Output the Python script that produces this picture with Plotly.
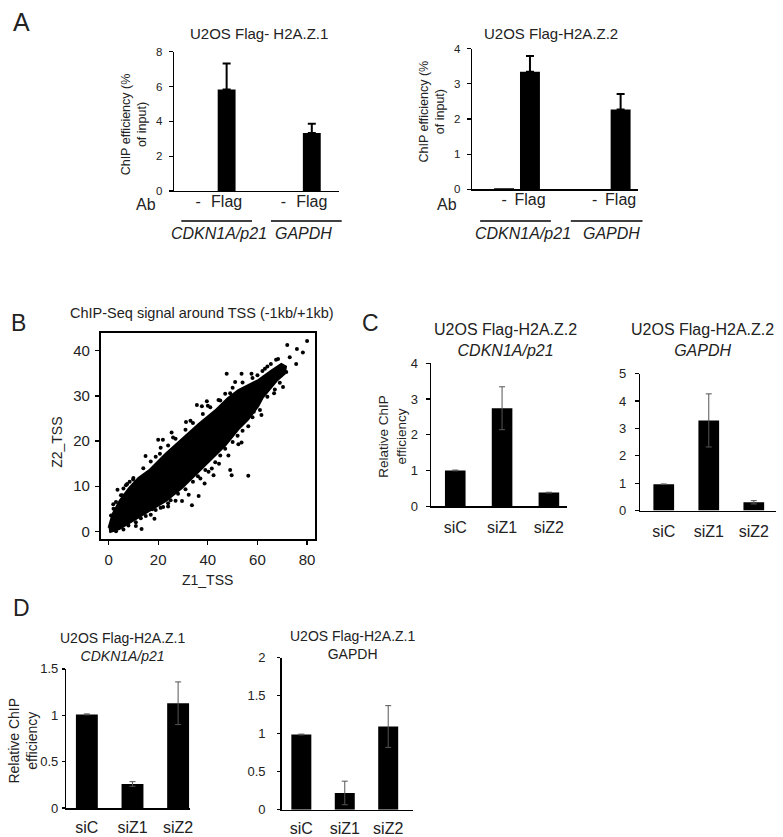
import plotly.graph_objects as go

W, H = 783, 837
FONT = "Liberation Sans, Arial, sans-serif"
TXT = "#222"

# ---------------- data ----------------
# Panel A
a_groups = ["CDKN1A/p21", "GAPDH"]
a_ab = ["-", "Flag"]
a1_title = "U2OS Flag- H2A.Z.1"
a1_values = [0.0, 5.84, 0.0, 3.33]
a1_err_up = [None, 1.49, None, 0.53]
a2_title = "U2OS Flag-H2A.Z.2"
a2_values = [0.03, 3.34, 0.0, 2.27]
a2_err_up = [None, 0.45, None, 0.44]
a_ytitle = "ChIP efficiency (%<br>of input)"

# Panel B  (dense core outline + individually visible points)
b_title = "ChIP-Seq signal around TSS (-1kb/+1kb)"
cloud_x = [0.0, 1.6, 4.5, 8.3, 12.0, 16.3, 23.0, 29.6, 36.3, 43.0, 48.0, 52.3, 56.0, 60.3, 65.6, 69.6, 71.5,
           71.0, 68.0, 65.6, 62.0, 60.3, 56.3, 52.3, 47.0, 41.6, 36.3, 29.6, 23.0, 16.3, 9.6, 4.3, 0.3]
cloud_y = [0.8, 3.8, 6.8, 9.6, 11.8, 13.5, 17.2, 20.4, 23.8, 26.8, 29.5, 31.3, 32.4, 33.5, 35.6, 37.1, 36.5,
           34.9, 33.5, 32.0, 29.5, 27.7, 24.8, 22.6, 19.0, 16.1, 13.2, 9.6, 6.7, 4.5, 2.3, 0.5, -0.2]
out_x = [80.0, 72.0, 75.9, 78.3, 75.6, 73.0, 68.3, 65.4, 63.0, 71.6, 70.3, 66.7, 61.6, 56.3, 53.6, 52.3,
         48.3, 49.0, 56.3, 42.3, 47.6, 53.6, 57.6, 39.6, 37.6, 51.0, 49.0, 44.3, 63.0, 66.3, 40.3, 49.6,
         13.3, 20.0, 21.9, 25.4, 31.2, 35.6, 14.9, 20.7, 9.9, 13.0, 3.6, 1.9, 33.6, 29.6, 27.0, 21.0,
         17.6, 36.3, 38.7, 32.3, 37.0, 41.6, 31.6, 26.3, 5.5, 7.0, 11.0, 18.5, 24.0, 44.5, 58.5, 67.5,
         # fringe along the upper edge of the core
         2.0, 3.0, 5.0, 6.0, 7.5, 10.0, 14.0, 17.0, 19.0, 24.0, 27.0, 31.0, 34.0, 38.0, 41.0, 45.0,
         47.0, 54.0, 58.0, 62.0, 64.0, 1.0, 8.5, 21.0, 26.0, 33.0, 40.0, 50.0, 60.0,
         # fringe along the lower edge of the core
         3.0, 6.0, 8.0, 11.0, 13.0, 15.0, 19.0, 22.0, 25.0, 28.0, 31.0, 34.0, 39.0, 43.0, 45.0, 50.0,
         54.0, 58.0, 61.0, 64.0, 67.0, 69.0, 17.0, 24.0, 36.0, 47.0, 52.0]
out_y = [42.2, 41.3, 40.4, 39.6, 37.1, 38.6, 38.2, 37.1, 36.0, 35.3, 32.0, 30.6, 25.8, 23.3, 19.7, 19.3,
         16.8, 13.6, 12.3, 12.4, 34.9, 34.9, 34.9, 28.8, 27.7, 33.1, 30.6, 29.1, 34.2, 33.5, 13.2, 12.4,
         0.5, 20.3, 20.3, 21.9, 24.2, 28.0, 16.7, 17.2, 11.5, 11.4, 9.2, 6.0, 5.8, 6.7, 6.8, 5.2,
         4.9, 7.8, 10.6, 8.1, 11.7, 13.9, 11.7, 10.0, 8.0, 10.2, 1.2, 2.8, 5.5, 15.0, 26.5, 38.0,
         5.0, 6.5, 8.0, 9.5, 10.5, 11.8, 14.0, 15.5, 16.5, 19.0, 20.5, 22.5, 24.0, 26.0, 27.5, 29.0,
         30.5, 33.0, 34.0, 35.5, 36.5, 3.5, 11.0, 18.5, 20.8, 24.5, 27.8, 31.8, 34.6,
         0.0, 0.4, 1.3, 2.0, 2.9, 3.4, 4.7, 5.4, 6.9, 8.3, 9.3, 11.0, 13.6, 15.3, 16.8, 19.8,
         22.3, 25.3, 26.9, 29.8, 31.4, 32.9, 3.7, 6.2, 12.2, 18.3, 21.2]
b_xtitle = "Z1_TSS"
b_ytitle = "Z2_TSS"

# Panels C and D
si_labels = ["siC", "siZ1", "siZ2"]
c1_title = "U2OS Flag-H2A.Z.2<br><i>CDKN1A/p21</i>"
c1_values = [1.0, 2.74, 0.38]
c1_err = [0.01, 0.60, 0.01]
c2_title = "U2OS Flag-H2A.Z.2<br><i>GAPDH</i>"
c2_values = [0.96, 3.29, 0.30]
c2_err = [0.01, 0.97, 0.06]
d1_title = "U2OS Flag-H2A.Z.1<br><i>CDKN1A/p21</i>"
d1_values = [1.01, 0.26, 1.13]
d1_err = [0.005, 0.025, 0.23]
d2_title = "U2OS Flag-H2A.Z.1<br>GAPDH"
d2_values = [0.99, 0.22, 1.095]
d2_err = [0.005, 0.155, 0.275]
rel_ytitle = "Relative ChIP<br>efficiency"

# ---------------- helpers ----------------
def fx(px):
    return px / W

def fy(py):
    return 1 - py / H

fig = go.Figure()
layout = dict(width=W, height=H, margin=dict(l=0, r=0, t=0, b=0), autosize=False,
              paper_bgcolor="white", plot_bgcolor="white", showlegend=False,
              font=dict(family=FONT, color=TXT), annotations=[], shapes=[])


def set_axes(n, left, right, top, bottom, xrange, yrange, ydtick, ytick_size, ystandoff,
             xtickvals=None, xticktext=None, xtick_size=16, xstandoff=2, ticklen=4, xticks=""):
    key = "" if n == 1 else str(n)
    layout["xaxis" + key] = dict(domain=[fx(left), fx(right)], range=xrange, anchor="y" + key,
                                 showline=True, linecolor="black", linewidth=1.5, ticks=xticks,
                                 showgrid=False, zeroline=False, tickvals=xtickvals, ticktext=xticktext,
                                 tickfont=dict(size=xtick_size, color=TXT, family=FONT),
                                 ticklabelstandoff=xstandoff, fixedrange=True)
    layout["yaxis" + key] = dict(domain=[fy(bottom), fy(top)], range=yrange, anchor="x" + key,
                                 showline=True, linecolor="black", linewidth=1.5, ticks="outside",
                                 ticklen=ticklen, tickwidth=1.2, tickcolor="black", dtick=ydtick,
                                 tick0=0, showgrid=False, zeroline=False,
                                 tickfont=dict(size=ytick_size, color=TXT, family=FONT),
                                 ticklabelstandoff=ystandoff, fixedrange=True)


def bar_panel(n, values, err_plus, err_minus, labels, first_px, unit_px, left, right, top, bottom,
              ymax, ydtick, width, ytick_size, ystandoff, xstandoff, positions, err_color, err_thick,
              err_width, xtick_size=16, ticklen=4):
    key = "" if n == 1 else str(n)
    fig.add_trace(go.Bar(x=positions, y=values, width=width, marker=dict(color="black", line=dict(width=0)),
                         xaxis="x" + key, yaxis="y" + key))
    # error bars only where an error value exists
    idx = [i for i, e in enumerate(err_plus) if e is not None]
    fig.add_trace(go.Scatter(x=[positions[i] for i in idx], y=[values[i] for i in idx], mode="markers",
                             marker=dict(size=1, color="rgba(0,0,0,0)"), xaxis="x" + key, yaxis="y" + key,
                             error_y=dict(type="data", symmetric=False,
                                          array=[err_plus[i] for i in idx],
                                          arrayminus=[(err_minus[i] or 0) for i in idx],
                                          color=err_color, thickness=err_thick, width=err_width)))
    xr = [(left - first_px) / unit_px, (right - first_px) / unit_px]
    set_axes(n, left, right, top, bottom, xr, [0, ymax], ydtick, ytick_size, ystandoff,
             xtickvals=positions, xticktext=labels, xtick_size=xtick_size, xstandoff=xstandoff,
             ticklen=ticklen)


def ann(text, px, py, size, angle=0, xanchor="center", yanchor="middle", italic=False):
    if italic:
        text = "<i>" + text + "</i>"
    layout["annotations"].append(dict(text=text, x=fx(px), y=fy(py), xref="paper", yref="paper",
                                      showarrow=False, font=dict(size=size, family=FONT, color=TXT),
                                      textangle=angle, xanchor=xanchor, yanchor=yanchor, align="center"))


def hline(x0, x1, py, w=1.5):
    layout["shapes"].append(dict(type="line", xref="paper", yref="paper", x0=fx(x0), x1=fx(x1),
                                 y0=fy(py), y1=fy(py), line=dict(color="black", width=w)))


# ---------------- Panel A ----------------
def a_positions(gap):
    return [g * gap + i for g in range(len(a_groups)) for i in range(len(a_ab))]

a_labels = [ab for g in a_groups for ab in a_ab]
a_minus = [None] * 4

bar_panel(1, a1_values, a1_err_up, a_minus, a_labels, 199, 28.5, 175, 340, 45.7, 187.3,
          8, 2, 0.63, 11.5, 4, -5, a_positions(3.0), "black", 2, 4)
bar_panel(2, a2_values, a2_err_up, a_minus, a_labels, 506, 26, 474, 640, 42.3, 185.7,
          4, 1, 0.77, 11.5, 4, -5, a_positions(3.5), "black", 2, 4)

ann("A", 22, 15, 25)
ann(a1_title, 260, 27, 15)
ann(a2_title, 553, 27, 15)
ann(a_ytitle, 134, 119, 12.5, angle=-90)
ann(a_ytitle, 434, 106, 12.5, angle=-90)
ann("Ab", 147, 201, 16)
ann("Ab", 449, 201, 16)
hline(182, 253, 218)
hline(272, 343, 218)
hline(482, 553, 218)
hline(573, 645, 218)
ann(a_groups[0], 220, 231, 16, italic=True)
ann(a_groups[1], 305, 231, 16, italic=True)
ann(a_groups[0], 525, 231, 16, italic=True)
ann(a_groups[1], 614, 231, 16, italic=True)

# ---------------- Panel B ----------------
fig.add_trace(go.Scatter(x=cloud_x, y=cloud_y, mode="lines", fill="toself", fillcolor="black",
                         line=dict(color="black", width=2), xaxis="x3", yaxis="y3", hoverinfo="skip"))
fig.add_trace(go.Scatter(x=out_x, y=out_y, mode="markers", marker=dict(color="black", size=4),
                         xaxis="x3", yaxis="y3"))
set_axes(3, 101, 316, 331.7, 541.7, [-3.2, 83.1], [-1.7, 44.0], 10, 15, 2, xtick_size=15,
         xstandoff=2, ticklen=4, xticks="outside")
layout["xaxis3"].update(dtick=20, tick0=0, mirror=True, linewidth=1.8, ticklen=4, tickcolor="black",
                        tickwidth=1.2, tickvals=None, ticktext=None)
layout["yaxis3"].update(mirror=True, linewidth=1.8)
ann("B", 19, 322, 23)
ann(b_title, 203, 312, 14.5)
ann(b_xtitle, 208, 583, 14)
ann(b_ytitle, 57, 443, 14, angle=-90)

# ---------------- Panel C ----------------
pos3 = list(range(len(si_labels)))
bar_panel(4, c1_values, c1_err, c1_err, si_labels, 457, 47, 432.7, 569, 362.7, 508.3,
          4, 1, 0.44, 13, 5, 6, pos3, "#555", 1, 3)
bar_panel(5, c2_values, c2_err, c2_err, si_labels, 666.3, 45.2, 642.7, 779, 373.3, 512.7,
          5, 1, 0.46, 13, 6, 6, pos3, "#555", 1, 3)
ann("C", 372, 322, 23)
ann(c1_title, 507, 339, 16)
ann(c2_title, 705, 339, 16)
ann(rel_ytitle, 394, 437, 13.5, angle=-90)

# ---------------- Panel D ----------------
bar_panel(6, d1_values, d1_err, d1_err, si_labels, 87.2, 45.8, 66.7, 191, 674, 815.7,
          1.5, 0.5, 0.48, 13, 1, 4, pos3, "#555", 1, 3, ticklen=3)
bar_panel(7, d2_values, d2_err, d2_err, si_labels, 302.5, 43.6, 282.7, 415, 662.7, 817.3,
          2, 0.5, 0.46, 13, 9, 4, pos3, "#555", 1, 3, ticklen=3)
ann("D", 22, 612, 23)
ann(d1_title, 123, 652, 14)
ann(d2_title, 354, 650, 14)
ann(rel_ytitle, 23, 747, 14, angle=-90)

fig.update_layout(**layout)
fig.write_html("out.html", config={"displayModeBar": False, "staticPlot": True},
               post_script="document.body.style.margin='0';")
